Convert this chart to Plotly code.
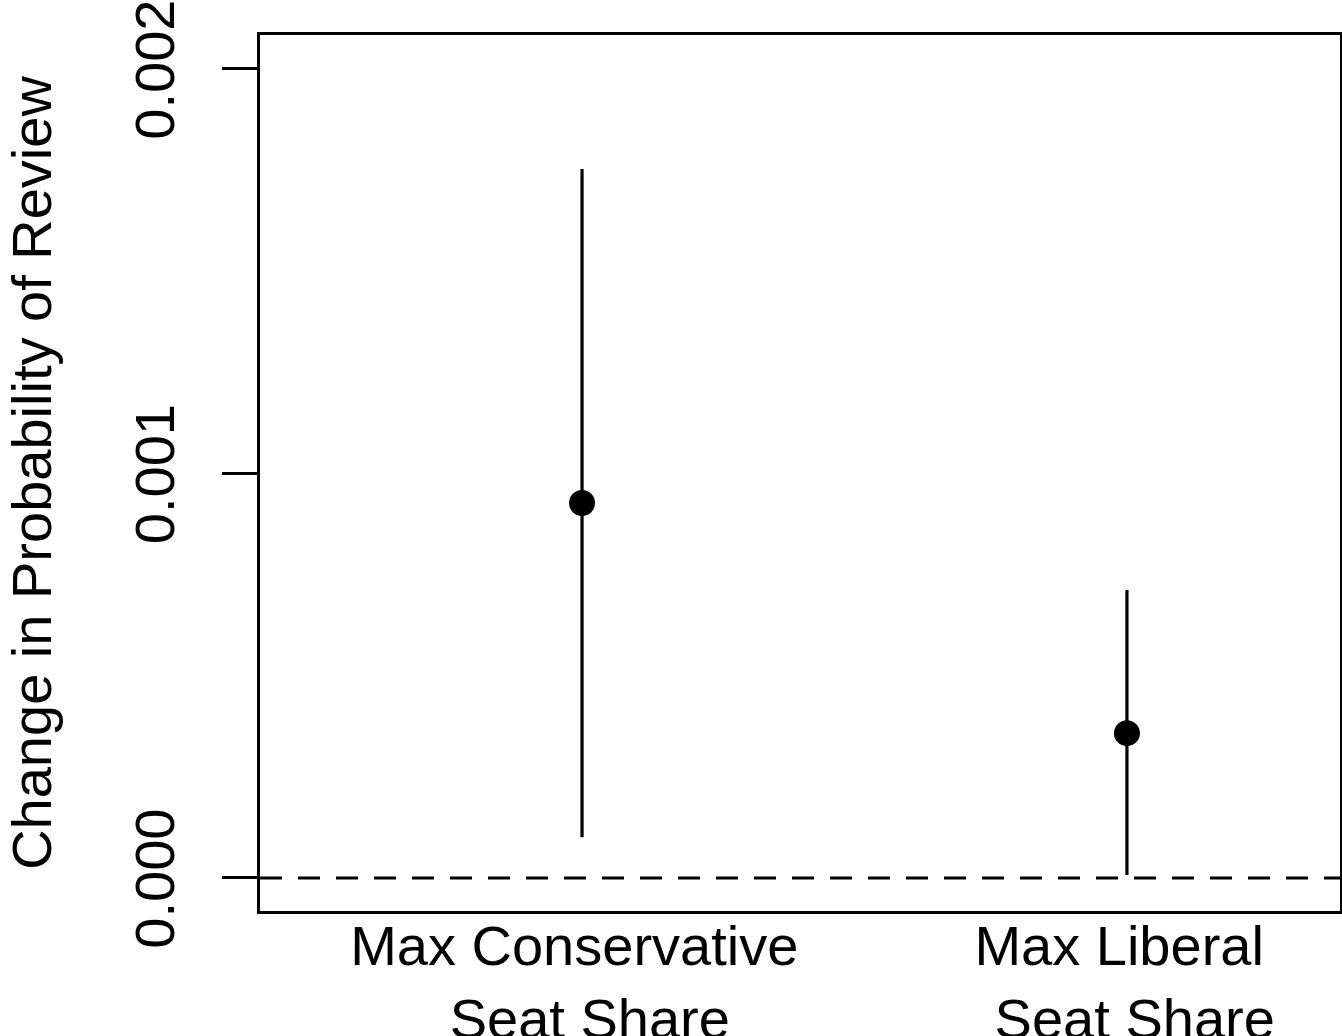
import plotly.graph_objects as go

categories = ["Max Conservative\u00a0<br>\u00a0Seat Share", "Max Liberal\u00a0<br>\u00a0Seat Share"]
x_pos = [1, 2]
estimates = [0.000927, 0.000358]
upper = [0.001753, 0.000712]
lower = [0.000101, 0.0000074]
y_tick_vals = [0.0, 0.001, 0.002]
y_tick_text = ["0.000", "0.001", "0.002"]

err_plus = [u - e for u, e in zip(upper, estimates)]
err_minus = [e - l for e, l in zip(estimates, lower)]

FONT = "Liberation Sans, Arial, Helvetica, sans-serif"

fig = go.Figure()
fig.add_trace(go.Scatter(
    x=x_pos, y=estimates, mode="markers",
    marker=dict(color="black", size=26, symbol="circle"),
    error_y=dict(type="data", symmetric=False, array=err_plus, arrayminus=err_minus,
                 color="black", thickness=3.2, width=0),
    showlegend=False, hoverinfo="skip",
))

fig.add_shape(type="line", xref="paper", yref="y", x0=0, x1=1, y0=0, y1=0,
              line=dict(color="black", width=3, dash="22px,16px"), layer="below")

fig.update_layout(
    width=1342, height=1036,
    margin=dict(l=260, r=2, t=35, b=125),
    paper_bgcolor="white", plot_bgcolor="white",
    font=dict(family=FONT, size=56, color="black"),
    xaxis=dict(
        range=[0.409, 2.391], tickvals=x_pos, ticktext=categories,
        ticks="", showgrid=False, zeroline=False, automargin=False,
        showline=True, mirror=True, linecolor="black", linewidth=3,
        tickfont=dict(size=56), ticklabelstandoff=-16, ticklabeloverflow="allow",
    ),
    yaxis=dict(
        range=[-0.0000816, 0.002084], tickvals=y_tick_vals, ticktext=y_tick_text,
        ticks="outside", ticklen=35, tickwidth=3, tickcolor="black",
        tickangle=-90, showgrid=False, zeroline=False, automargin=False,
        showline=True, mirror=True, linecolor="black", linewidth=3,
        tickfont=dict(size=56), ticklabelstandoff=26, ticklabelshift=9,
        ticklabeloverflow="allow",
        title=dict(text="Change in Probability of Review", font=dict(size=56), standoff=70),
    ),
)

fig.write_html("out.html", config={"displayModeBar": False},
               post_script="document.body.style.margin='0';document.body.style.overflow='hidden';")
